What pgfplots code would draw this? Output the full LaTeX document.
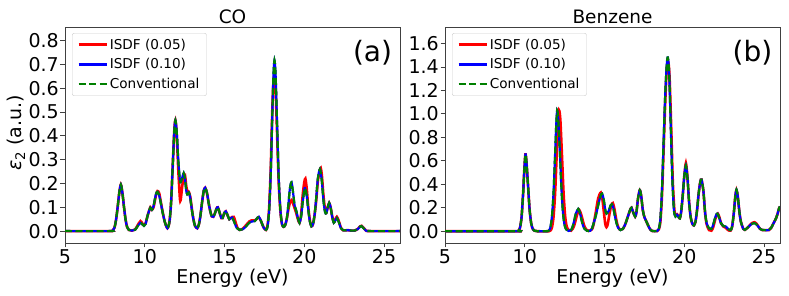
\documentclass[border=0pt]{standalone}
\usepackage{fontspec}
\setmainfont{DejaVu Sans}
\usepackage{pgfplots}
\pgfplotsset{compat=1.18}
\definecolor{mplgreen}{rgb}{0,0.5,0}

% ---------- CO data ----------
\pgfplotstableread{
x y
5.0 0
7.8 0
8.0 0.003
8.1 0.014
8.2 0.047
8.3 0.10
8.4 0.16
8.5 0.195
8.6 0.16
8.7 0.10
8.8 0.047
8.9 0.016
9.0 0.005
9.2 0.002
9.4 0.006
9.55 0.02
9.73 0.035
9.85 0.028
9.95 0.022
10.05 0.03
10.2 0.07
10.35 0.098
10.45 0.09
10.55 0.105
10.7 0.155
10.8 0.165
10.9 0.15
11.0 0.12
11.1 0.085
11.25 0.04
11.42 0.012
11.55 0.04
11.65 0.12
11.75 0.27
11.85 0.42
11.92 0.465
12.0 0.42
12.1 0.30
12.2 0.215
12.25 0.205
12.35 0.225
12.44 0.243
12.52 0.22
12.6 0.17
12.66 0.155
12.76 0.162
12.85 0.14
12.95 0.09
13.05 0.05
13.15 0.022
13.29 0.012
13.4 0.03
13.5 0.07
13.6 0.125
13.7 0.17
13.79 0.182
13.9 0.16
14.0 0.12
14.1 0.085
14.2 0.062
14.3 0.06
14.4 0.075
14.5 0.095
14.58 0.10
14.68 0.08
14.8 0.055
14.88 0.055
14.98 0.075
15.08 0.083
15.2 0.065
15.3 0.05
15.4 0.055
15.48 0.057
15.6 0.04
15.75 0.015
15.95 0.005
16.15 0.008
16.35 0.02
16.55 0.035
16.7 0.04
16.9 0.042
17.0 0.05
17.15 0.06
17.3 0.04
17.45 0.015
17.6 0.005
17.7 0.02
17.8 0.09
17.9 0.25
18.0 0.50
18.07 0.66
18.13 0.717
18.2 0.66
18.3 0.44
18.4 0.22
18.5 0.09
18.6 0.03
18.7 0.018
18.8 0.025
18.9 0.05
19.0 0.11
19.1 0.18
19.2 0.205
19.3 0.16
19.4 0.105
19.5 0.085
19.6 0.055
19.7 0.035
19.8 0.06
19.9 0.12
20.0 0.172
20.05 0.18
20.15 0.15
20.25 0.09
20.35 0.04
20.45 0.02
20.55 0.03
20.65 0.07
20.75 0.14
20.85 0.22
20.98 0.26
21.1 0.21
21.2 0.13
21.3 0.08
21.38 0.075
21.47 0.10
21.56 0.118
21.65 0.10
21.75 0.06
21.85 0.035
21.95 0.045
22.04 0.055
22.15 0.04
22.3 0.012
22.45 0.003
22.7 0.004
22.95 0.002
23.15 0.002
23.35 0.008
23.5 0.019
23.58 0.021
23.7 0.013
23.85 0.003
24.1 0
26.0 0
}\COconv

\pgfplotstableread{
x y
5.0 0
7.8 0
8.0 0.003
8.1 0.014
8.2 0.047
8.3 0.10
8.4 0.16
8.5 0.195
8.6 0.16
8.7 0.10
8.8 0.047
8.9 0.016
9.0 0.005
9.2 0.002
9.4 0.007
9.55 0.024
9.73 0.042
9.85 0.032
9.95 0.025
10.05 0.032
10.2 0.07
10.35 0.1
10.45 0.09
10.55 0.1
10.7 0.15
10.8 0.168
10.9 0.16
11.0 0.125
11.1 0.088
11.25 0.04
11.42 0.012
11.55 0.04
11.65 0.12
11.75 0.27
11.85 0.42
11.92 0.465
12.0 0.41
12.1 0.26
12.2 0.14
12.25 0.13
12.35 0.19
12.44 0.225
12.52 0.235
12.6 0.19
12.66 0.17
12.76 0.165
12.85 0.145
12.95 0.095
13.05 0.05
13.15 0.022
13.29 0.012
13.4 0.03
13.5 0.07
13.6 0.125
13.7 0.17
13.79 0.182
13.9 0.16
14.0 0.12
14.1 0.085
14.2 0.062
14.3 0.06
14.4 0.075
14.5 0.095
14.58 0.10
14.68 0.08
14.8 0.055
14.88 0.055
14.98 0.075
15.08 0.083
15.2 0.065
15.3 0.05
15.4 0.055
15.5 0.06
15.58 0.06
15.68 0.04
15.8 0.015
15.95 0.005
16.15 0.01
16.35 0.025
16.55 0.04
16.7 0.045
16.9 0.045
17.0 0.05
17.15 0.058
17.3 0.04
17.45 0.015
17.6 0.005
17.7 0.025
17.8 0.1
17.9 0.27
18.0 0.52
18.07 0.63
18.12 0.65
18.2 0.6
18.3 0.40
18.4 0.20
18.5 0.085
18.6 0.03
18.7 0.018
18.8 0.025
18.9 0.05
19.0 0.09
19.1 0.12
19.2 0.13
19.3 0.115
19.4 0.095
19.5 0.075
19.6 0.05
19.7 0.035
19.8 0.07
19.9 0.15
20.0 0.205
20.07 0.22
20.15 0.18
20.25 0.1
20.35 0.045
20.45 0.02
20.55 0.03
20.65 0.07
20.75 0.13
20.85 0.21
20.98 0.255
21.03 0.265
21.1 0.235
21.2 0.15
21.3 0.09
21.38 0.078
21.47 0.10
21.56 0.118
21.65 0.10
21.75 0.062
21.85 0.038
21.95 0.05
22.04 0.06
22.15 0.045
22.3 0.014
22.45 0.003
22.7 0.004
22.95 0.002
23.15 0.002
23.35 0.009
23.5 0.02
23.6 0.022
23.72 0.014
23.85 0.003
24.1 0
26.0 0
}\COred

% ---------- Benzene data ----------
\pgfplotstableread{
x y
5.0 0
9.5 0
9.6 0.004
9.7 0.03
9.8 0.12
9.9 0.33
9.97 0.52
10.04 0.655
10.1 0.60
10.2 0.40
10.3 0.19
10.4 0.07
10.5 0.02
10.6 0.005
10.8 0
11.4 0
11.5 0.005
11.6 0.03
11.7 0.12
11.8 0.32
11.9 0.65
11.97 0.9
12.03 1.03
12.1 0.95
12.2 0.68
12.3 0.36
12.4 0.15
12.5 0.05
12.6 0.015
12.75 0.003
12.9 0.01
13.0 0.04
13.1 0.09
13.2 0.15
13.35 0.19
13.45 0.16
13.55 0.10
13.65 0.05
13.75 0.02
13.9 0.004
14.1 0.004
14.2 0.02
14.3 0.06
14.45 0.13
14.6 0.22
14.75 0.3
14.85 0.32
14.95 0.27
15.05 0.18
15.12 0.15
15.25 0.17
15.38 0.22
15.46 0.23
15.55 0.2
15.65 0.13
15.75 0.07
15.85 0.03
16.0 0.01
16.15 0.02
16.3 0.06
16.45 0.12
16.6 0.18
16.69 0.2
16.8 0.16
16.92 0.125
17.0 0.16
17.1 0.28
17.21 0.35
17.3 0.3
17.4 0.18
17.5 0.12
17.6 0.09
17.7 0.06
17.8 0.03
17.9 0.01
18.0 0.002
18.3 0.002
18.4 0.02
18.5 0.1
18.6 0.35
18.7 0.75
18.8 1.15
18.9 1.42
18.97 1.48
19.05 1.35
19.15 0.9
19.25 0.45
19.35 0.18
19.45 0.125
19.55 0.14
19.65 0.12
19.72 0.11
19.8 0.16
19.9 0.3
20.0 0.47
20.1 0.56
20.2 0.45
20.3 0.25
20.4 0.12
20.5 0.065
20.6 0.05
20.7 0.08
20.8 0.18
20.9 0.32
21.0 0.42
21.08 0.44
21.2 0.34
21.3 0.17
21.4 0.07
21.55 0.025
21.7 0.02
21.8 0.05
21.9 0.1
22.0 0.14
22.08 0.15
22.2 0.11
22.3 0.07
22.45 0.045
22.6 0.04
22.75 0.02
22.9 0.01
23.0 0.04
23.1 0.15
23.2 0.3
23.27 0.355
23.35 0.3
23.45 0.17
23.55 0.08
23.7 0.02
23.8 0.012
24.0 0.035
24.2 0.06
24.375 0.07
24.55 0.055
24.75 0.02
24.9 0.01
25.0 0.01
25.3 0.01
25.45 0.03
25.6 0.07
25.75 0.11
25.85 0.15
25.95 0.2
26.0 0.21
}\BZconv

\pgfplotstableread{
x y
5.0 0
9.5 0
9.6 0.004
9.7 0.03
9.8 0.12
9.9 0.33
9.97 0.52
10.04 0.655
10.1 0.60
10.2 0.40
10.3 0.19
10.4 0.07
10.5 0.02
10.6 0.005
10.8 0
11.5 0
11.6 0.005
11.7 0.03
11.8 0.12
11.9 0.32
12.0 0.65
12.08 0.92
12.15 1.03
12.23 0.95
12.33 0.65
12.43 0.33
12.53 0.13
12.63 0.04
12.75 0.01
12.9 0.005
13.0 0.02
13.1 0.05
13.2 0.1
13.3 0.15
13.42 0.18
13.52 0.15
13.62 0.1
13.72 0.05
13.85 0.015
14.0 0.003
14.2 0.015
14.3 0.05
14.45 0.16
14.6 0.28
14.77 0.33
14.87 0.27
14.97 0.15
15.05 0.06
15.12 0.035
15.2 0.06
15.3 0.14
15.42 0.22
15.52 0.24
15.62 0.19
15.72 0.11
15.82 0.05
15.95 0.015
16.15 0.02
16.3 0.06
16.45 0.12
16.6 0.18
16.69 0.2
16.8 0.16
16.92 0.125
17.0 0.16
17.1 0.28
17.21 0.35
17.3 0.3
17.4 0.18
17.5 0.12
17.6 0.09
17.7 0.06
17.8 0.03
17.9 0.01
18.0 0.002
18.3 0.002
18.4 0.015
18.5 0.08
18.6 0.3
18.7 0.68
18.8 1.08
18.9 1.38
19.0 1.44
19.08 1.3
19.18 0.88
19.28 0.42
19.38 0.18
19.45 0.14
19.55 0.145
19.65 0.12
19.72 0.11
19.8 0.16
19.9 0.3
20.0 0.47
20.1 0.58
20.2 0.46
20.3 0.25
20.4 0.12
20.5 0.065
20.6 0.05
20.7 0.08
20.8 0.18
20.9 0.32
21.0 0.42
21.08 0.44
21.2 0.34
21.3 0.16
21.4 0.06
21.55 0.01
21.7 0.005
21.8 0.03
21.9 0.08
22.0 0.13
22.1 0.15
22.2 0.12
22.3 0.07
22.45 0.04
22.6 0.03
22.75 0.01
22.9 0.005
23.0 0.04
23.1 0.15
23.2 0.3
23.27 0.35
23.35 0.3
23.45 0.17
23.55 0.08
23.7 0.02
23.8 0.012
24.0 0.035
24.2 0.065
24.4 0.077
24.55 0.06
24.75 0.02
24.9 0.01
25.0 0.01
25.3 0.01
25.45 0.03
25.6 0.07
25.75 0.11
25.85 0.15
25.95 0.2
26.0 0.21
}\BZred

\pgfplotsset{
  panel/.style={
    scale only axis, width=335pt, height=216pt,
    anchor=south west,
    xmin=5, xmax=26,
    xtick={5,10,15,20,25},
    tick align=outside, tick pos=left,
    major tick length=4.5pt,
    every tick/.style={black!75, line width=0.8pt},
    axis line style={black!75, line width=0.8pt},
    tick label style={font=\fontsize{19}{19}\selectfont},
    /pgf/number format/assume math mode=true,
    yticklabel style={/pgf/number format/fixed, /pgf/number format/fixed zerofill, /pgf/number format/precision=1, inner sep=1.5pt},
    xticklabel style={inner sep=2pt},
    legend style={at={(0.021,0.972)}, anchor=north west, draw=black!20, rounded corners=2pt,
      fill=white, fill opacity=0.8, text opacity=1,
      font=\fontsize{13.6}{13.6}\selectfont, inner xsep=5pt, inner ysep=3.5pt,
      row sep=4pt, cells={anchor=west}},
    legend image code/.code={\draw[##1] (0pt,0pt) -- (28pt,0pt);},
    every axis plot/.append style={smooth, tension=0.45},
  },
  redline/.style={red, line width=2.6pt},
  blueline/.style={blue, line width=2.2pt},
  greenline/.style={mplgreen, line width=2.2pt, dash pattern=on 7pt off 3.5pt},
}

\begin{document}
\begin{tikzpicture}
\useasboundingbox (0pt,0pt) rectangle (789pt,296pt);

\begin{axis}[panel, at={(65pt,53pt)}, ymin=-0.05, ymax=0.857,
  ytick={0,0.1,0.2,0.3,0.4,0.5,0.6,0.7,0.8}]
\addplot[redline] table[x=x,y=y] {\COred};
\addlegendentry{ISDF (0.05)}
\addplot[blueline] table[x=x,y=y] {\COconv};
\addlegendentry{ISDF (0.10)}
\addplot[greenline] table[x=x,y=y] {\COconv};
\addlegendentry{Conventional}
\node[font=\fontsize{28}{28}\selectfont] at (rel axis cs:0.918,0.88) {(a)};
\end{axis}

\begin{axis}[panel, at={(445pt,53pt)}, ymin=-0.1, ymax=1.74,
  ytick={0,0.2,0.4,0.6,0.8,1.0,1.2,1.4,1.6}]
\addplot[redline] table[x=x,y=y] {\BZred};
\addlegendentry{ISDF (0.05)}
\addplot[blueline] table[x=x,y=y] {\BZconv};
\addlegendentry{ISDF (0.10)}
\addplot[greenline] table[x=x,y=y] {\BZconv};
\addlegendentry{Conventional}
\node[font=\fontsize{28}{28}\selectfont] at (rel axis cs:0.918,0.88) {(b)};
\end{axis}

\node[anchor=base, font=\fontsize{18.5}{18.5}\selectfont] at (232.5pt,272pt) {CO};
\node[anchor=base, font=\fontsize{18.5}{18.5}\selectfont] at (612.5pt,272pt) {Benzene};
\node[anchor=base, font=\fontsize{19}{19}\selectfont] at (232.5pt,12pt) {Energy (eV)};
\node[anchor=base, font=\fontsize{19}{19}\selectfont] at (612.5pt,12pt) {Energy (eV)};
\node[rotate=90, font=\fontsize{19}{19}\selectfont] at (16pt,163pt) {\textit{ε}\textsubscript{2} (a.u.)};
\end{tikzpicture}
\end{document}
